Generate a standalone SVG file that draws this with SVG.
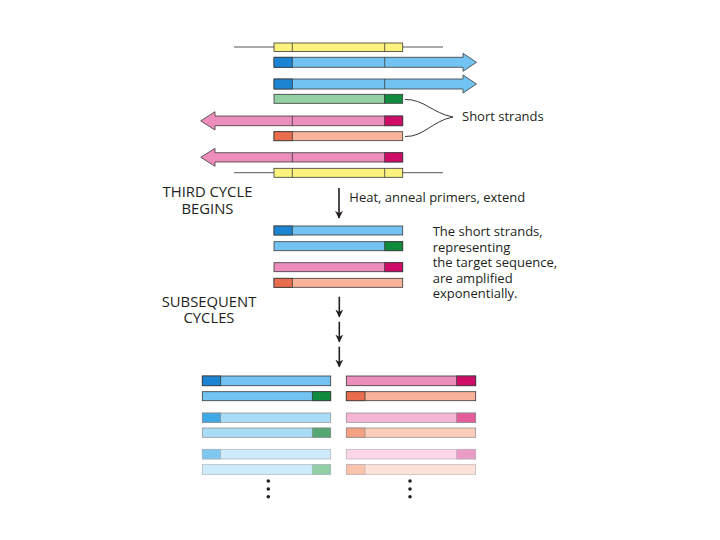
<svg xmlns="http://www.w3.org/2000/svg" width="720" height="540" viewBox="0 0 720 540">
<style>
.t{font-family:"Open Sans","Liberation Sans",sans-serif;fill:#231f20}
.lbl{font-size:13px}
.cap{font-size:14.8px;text-anchor:middle}
.s{stroke:#3a3a3a;stroke-width:0.8}
.sl{stroke:#8a8a8a;stroke-width:0.7}
.div{stroke:#3a3a3a;stroke-width:0.8}
.ln{stroke:#555;stroke-width:1;fill:none}
.arr{stroke:#231f20;stroke-width:1.6;fill:none}
</style>
<defs>
<marker id="ah" viewBox="0 0 10 10" refX="9" refY="5" markerWidth="5" markerHeight="5" orient="auto" markerUnits="strokeWidth">
<path d="M0,0 L10,5 L0,10 L3,5 Z" fill="#231f20"/>
</marker>
</defs>
<rect width="720" height="540" fill="#fff"/>

<g id="top-template">
<line class="ln" x1="234" y1="47" x2="443" y2="47"/>
<rect class="s" x="274" y="43" width="128.7" height="8.5" fill="#fbf27e"/>
<line class="div" x1="292.3" y1="43" x2="292.3" y2="51.5"/>
<line class="div" x1="384.7" y1="43" x2="384.7" y2="51.5"/>
</g>
<g id="blue-arrow-1">
<path class="s" d="M274,57.3 H463 V53.3 L476.5,62.3 L463,71.3 V67.3 H274 Z" fill="#72c3f1"/>
<rect class="s" x="274" y="57.3" width="18.3" height="10" fill="#1c84d2"/>
<line class="div" x1="384.7" y1="57.3" x2="384.7" y2="67.3"/>
</g>
<g id="blue-arrow-2">
<path class="s" d="M274,79 H463 V75 L476.5,84 L463,93 V89 H274 Z" fill="#72c3f1"/>
<rect class="s" x="274" y="79" width="18.3" height="10" fill="#1c84d2"/>
<line class="div" x1="384.7" y1="79" x2="384.7" y2="89"/>
</g>
<g id="green-short">
<rect class="s" x="274" y="94.3" width="110.7" height="9" fill="#92cfa3"/>
<rect class="s" x="384.7" y="94.3" width="18" height="9" fill="#108a3c"/>
</g>
<g id="pink-arrow-1">
<path class="s" d="M402.7,116 H215 V111.7 L200.7,120.9 L215,130 V125.7 H402.7 Z" fill="#ec8dbb"/>
<rect class="s" x="384.7" y="116" width="18" height="9.7" fill="#cf0d68"/>
<line class="div" x1="292.3" y1="116" x2="292.3" y2="125.7"/>
</g>
<g id="salmon-short">
<rect class="s" x="274" y="131.7" width="128.7" height="9" fill="#f8b39a"/>
<rect class="s" x="274" y="131.7" width="18.3" height="9" fill="#e86c4d"/>
</g>
<g id="pink-arrow-2">
<path class="s" d="M402.7,152.7 H215 V148.3 L200.7,157.3 L215,166.3 V162 H402.7 Z" fill="#ec8dbb"/>
<rect class="s" x="384.7" y="152.7" width="18" height="9.3" fill="#cf0d68"/>
<line class="div" x1="292.3" y1="152.7" x2="292.3" y2="162"/>
</g>
<g id="bottom-template">
<line class="ln" x1="234" y1="172.7" x2="443" y2="172.7"/>
<rect class="s" x="274" y="168.3" width="128.7" height="9" fill="#fbf27e"/>
<line class="div" x1="292.3" y1="168.3" x2="292.3" y2="177.3"/>
<line class="div" x1="384.7" y1="168.3" x2="384.7" y2="177.3"/>
</g>
<g id="short-strands-label">
<text class="t lbl" x="462" y="121">Short strands</text>
</g>

<g id="third-cycle-label">
<text class="t cap" x="207.5" y="197.3">THIRD CYCLE</text>
<text class="t cap" x="207.5" y="213.6">BEGINS</text>
</g>
<g id="step-label">
<text class="t lbl" x="349.3" y="202.3">Heat, anneal primers, extend</text>
</g>
<g id="c3-blue-1">
<rect class="s" x="274" y="226" width="128.7" height="9" fill="#72c3f1"/>
<rect class="s" x="274" y="226" width="18.3" height="9" fill="#1c84d2"/>
</g>
<g id="c3-blue-2">
<rect class="s" x="274" y="241.7" width="128.7" height="9" fill="#72c3f1"/>
<rect class="s" x="384.7" y="241.7" width="18" height="9" fill="#108a3c"/>
</g>
<g id="c3-pink">
<rect class="s" x="274" y="262.7" width="128.7" height="9" fill="#ec8dbb"/>
<rect class="s" x="384.7" y="262.7" width="18" height="9" fill="#cf0d68"/>
</g>
<g id="c3-salmon">
<rect class="s" x="274" y="278.3" width="128.7" height="9" fill="#f8b39a"/>
<rect class="s" x="274" y="278.3" width="18.3" height="9" fill="#e86c4d"/>
</g>
<g id="amplified-note">
<text class="t lbl" x="432.7">
<tspan x="432.7" y="236">The short strands,</tspan>
<tspan x="432.7" y="251.5">representing</tspan>
<tspan x="432.7" y="267">the target sequence,</tspan>
<tspan x="432.7" y="282.5">are amplified</tspan>
<tspan x="432.7" y="298">exponentially.</tspan>
</text>
</g>

<g id="subsequent-label">
<text class="t cap" x="209" y="306.7">SUBSEQUENT</text>
<text class="t cap" x="209" y="323.3">CYCLES</text>
</g>

<g id="left-1">
<rect class="s" x="202.3" y="376" width="128.4" height="9.7" fill="#72c3f1"/>
<rect class="s" x="202.3" y="376" width="18.4" height="9.7" fill="#1c84d2"/>
</g>
<g id="left-2">
<rect class="s" x="202.3" y="391.7" width="128.4" height="9" fill="#72c3f1"/>
<rect class="s" x="312.3" y="391.7" width="18.4" height="9" fill="#108a3c"/>
</g>
<g id="left-3">
<rect class="sl" x="202.3" y="413" width="128.4" height="9.3" fill="#a9dcf6"/>
<rect class="sl" x="202.3" y="413" width="18.4" height="9.3" fill="#3ea9e6"/>
</g>
<g id="left-4">
<rect class="sl" x="202.3" y="428" width="128.4" height="9.3" fill="#a9dcf6"/>
<rect class="sl" x="312.3" y="428" width="18.4" height="9.3" fill="#56a873"/>
</g>
<g id="left-5">
<rect class="sl" x="202.3" y="449.3" width="128.4" height="9.7" fill="#cdebfa" style="stroke:#a8b4bc"/>
<rect class="sl" x="202.3" y="449.3" width="18.4" height="9.7" fill="#7ec8f0" style="stroke:#a8b4bc"/>
</g>
<g id="left-6">
<rect class="sl" x="202.3" y="464.7" width="128.4" height="9.6" fill="#cdebfa" style="stroke:#a8b4bc"/>
<rect class="sl" x="312.3" y="464.7" width="18.4" height="9.6" fill="#93cfa5" style="stroke:#a8b4bc"/>
</g>
<g id="right-1">
<rect class="s" x="346.3" y="376" width="129.4" height="9.7" fill="#ec8dbb"/>
<rect class="s" x="456.7" y="376" width="19" height="9.7" fill="#cf0d68"/>
</g>
<g id="right-2">
<rect class="s" x="346.3" y="391.7" width="129.4" height="9" fill="#f8b39a"/>
<rect class="s" x="346.3" y="391.7" width="18.7" height="9" fill="#e86c4d"/>
</g>
<g id="right-3">
<rect class="sl" x="346.3" y="413" width="129.4" height="9.3" fill="#f6b7d6"/>
<rect class="sl" x="456.7" y="413" width="19" height="9.3" fill="#e45c9a"/>
</g>
<g id="right-4">
<rect class="sl" x="346.3" y="428" width="129.4" height="9.3" fill="#fccdb8"/>
<rect class="sl" x="346.3" y="428" width="18.7" height="9.3" fill="#f5a083"/>
</g>
<g id="right-5">
<rect class="sl" x="346.3" y="449.3" width="129.4" height="9.7" fill="#fad6e8" style="stroke:#bcb0b6"/>
<rect class="sl" x="456.7" y="449.3" width="19" height="9.7" fill="#ea9cc4" style="stroke:#bcb0b6"/>
</g>
<g id="right-6">
<rect class="sl" x="346.3" y="464.7" width="129.4" height="9.6" fill="#fde3d7" style="stroke:#bcb0b6"/>
<rect class="sl" x="346.3" y="464.7" width="18.7" height="9.6" fill="#fac3ab" style="stroke:#bcb0b6"/>
</g>
<g id="dots" fill="#231f20">
<circle cx="268.3" cy="481" r="1.8"/>
<circle cx="268.3" cy="489" r="1.8"/>
<circle cx="268.3" cy="496.7" r="1.8"/>
<circle cx="410" cy="481" r="1.8"/>
<circle cx="410" cy="489" r="1.8"/>
<circle cx="410" cy="496.7" r="1.8"/>
</g>

<g id="connectors">
<path class="ln" d="M405,99.5 C424,99 432,113 453,117" style="stroke:#231f20;stroke-width:0.9"/>
<path class="ln" d="M405,136.5 C424,137 432,121 453,117" style="stroke:#231f20;stroke-width:0.9"/>
<line class="arr" x1="339" y1="188" x2="339" y2="218" marker-end="url(#ah)"/>
<line class="arr" x1="339.3" y1="296.7" x2="339.3" y2="316.7" marker-end="url(#ah)"/>
<line class="arr" x1="339.3" y1="321.7" x2="339.3" y2="341.7" marker-end="url(#ah)"/>
<line class="arr" x1="339.3" y1="346.7" x2="339.3" y2="366.7" marker-end="url(#ah)"/>
</g>
</svg>
